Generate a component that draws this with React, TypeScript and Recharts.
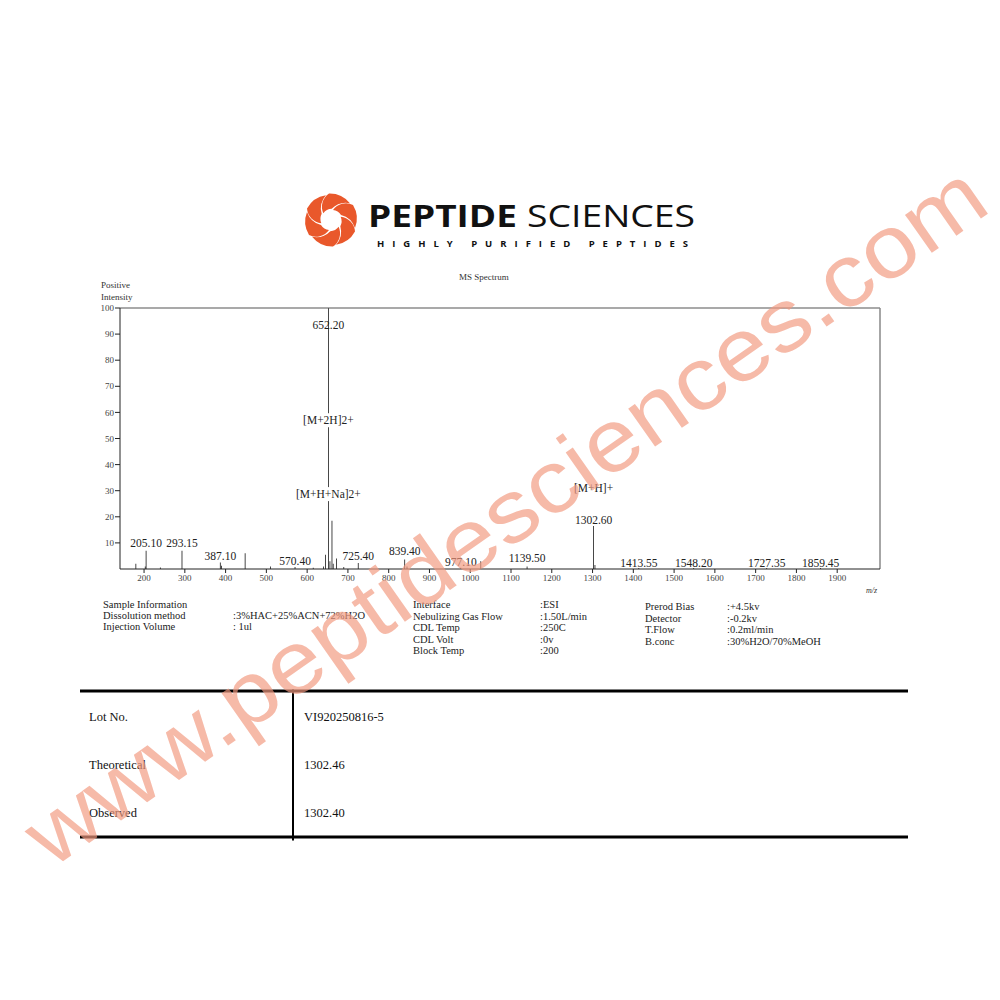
import { ComposedChart, Bar, Scatter, XAxis, YAxis, ReferenceLine } from "recharts";

// peaks (m/z, relative intensity %)
const peakMz = [
  180, 203, 205.1, 240, 293.15, 387.1, 390, 448, 510, 570.4, 615, 640, 645, 652.2, 656, 661, 664,
  672, 690, 725.4, 839.4, 845, 977.1, 1026, 1139.5, 1302.6, 1306, 1413.55, 1548.2, 1727.35, 1859.45,
];
const peakIntensity = [
  2, 1, 7, 0.6, 7, 2.5, 1.2, 6, 1, 0.8, 0.5, 1, 5.5, 100, 3, 18.5, 2, 4, 0.8, 2.3, 3.6, 1, 0.5, 3,
  1, 16.5, 1.5, 0.4, 0.4, 0.4, 0.4,
];

// annotations (m/z, height on the intensity scale, text)
const labelMz = [
  205.1, 293.15, 387.1, 570.4, 652.2, 652.2, 652.2, 725.4, 839.4, 977.1, 1139.5, 1302.6, 1302.6,
  1413.55, 1548.2, 1727.35, 1859.45,
];
const labelPos = [10, 10, 5, 3, 93.5, 57, 28.7, 5, 7, 2.8, 4.2, 31, 18.8, 2.4, 2.4, 2.4, 2.4];
const labelText = [
  "205.10", "293.15", "387.10", "570.40", "652.20", "[M+2H]2+", "[M+H+Na]2+", "725.40", "839.40",
  "977.10", "1139.50", "[M+H]+", "1302.60", "1413.55", "1548.20", "1727.35", "1859.45",
];

const xTicks = [200, 300, 400, 500, 600, 700, 800, 900, 1000, 1100, 1200, 1300, 1400, 1500, 1600, 1700, 1800, 1900];
const yTicks = [10, 20, 30, 40, 50, 60, 70, 80, 90, 100];

const sampleInfo = [
  ["Sample Information", ""],
  ["Dissolution method", ":3%HAC+25%ACN+72%H2O"],
  ["Injection Volume", ": 1ul"],
];
const sourceInfo = [
  ["Interface", ":ESI"],
  ["Nebulizing Gas Flow", ":1.50L/min"],
  ["CDL Temp", ":250C"],
  ["CDL Volt", ":0v"],
  ["Block Temp", ":200"],
];
const detectorInfo = [
  ["Prerod Bias", ":+4.5kv"],
  ["Detector", ":-0.2kv"],
  ["T.Flow", ":0.2ml/min"],
  ["B.conc", ":30%H2O/70%MeOH"],
];
const tableRows = [
  ["Lot No.", "VI920250816-5"],
  ["Theoretical", "1302.46"],
  ["Observed", "1302.40"],
];

const peaks = peakMz.map((mz, i) => ({ mz, intensity: peakIntensity[i] }));
const labels = labelMz.map((mz, i) => ({ mz, y: labelPos[i], text: labelText[i] }));

const xMinor: number[] = [];
for (let v = 160; v <= 2000; v += 20) xMinor.push(v);
const yMinor: number[] = [];
for (let v = 0; v <= 100; v += 2) yMinor.push(v);

const SERIF = "'Liberation Serif', 'DejaVu Serif', serif";
const SANS = "'Open Sans', 'Noto Sans', sans-serif";
const ORANGE = "#e9582b";

function PeakLabel(props: any) {
  const { cx, cy, payload } = props;
  if (cx == null || cy == null) return null;
  const boxed = payload.text.startsWith("[");
  const w = payload.text.length * 5.9;
  return (
    <g>
      {boxed && <rect x={cx - w / 2} y={cy - 7} width={w} height={14} fill="#fff" />}
      <text x={cx} y={cy + 4} textAnchor="middle" fontFamily={SERIF} fontSize={11.5} fill="#222">
        {payload.text}
      </text>
    </g>
  );
}

function Logo() {
  const cx = 331;
  const cy = 220;
  const blades = [0, 60, 120, 180, 240, 300];
  return (
    <g>
      {blades.map((a) => (
        <path
          key={a}
          transform={`translate(${cx} ${cy}) rotate(${a})`}
          d="M 2 -10 A 16 16 0 0 1 22 -15 A 26 26 0 0 1 24 8 A 20 20 0 0 0 10 -5 A 11 11 0 0 0 2 -10 Z"
          fill={ORANGE}
        />
      ))}
      <text x={368} y={227} fontFamily={SANS} fontSize={31} fontWeight={700} fill="#111"
        textLength={149} lengthAdjust="spacingAndGlyphs">
        PEPTIDE
      </text>
      <text x={527} y={227} fontFamily={SANS} fontSize={31} fontWeight={400} fill="#111"
        textLength={168} lengthAdjust="spacingAndGlyphs">
        SCIENCES
      </text>
      <text x={377} y={247} fontFamily={SANS} fontSize={9.5} fontWeight={700} fill="#111"
        textLength={311} lengthAdjust="spacing">
        HIGHLY PURIFIED PEPTIDES
      </text>
    </g>
  );
}

export default function App() {
  return (
    <div
      style={{
        position: "absolute",
        left: 0,
        top: 0,
        width: 1000,
        height: 1000,
        background: "#fff",
        fontFamily: SERIF,
        overflow: "hidden",
      }}
    >
      <svg width={1000} height={1000} style={{ position: "absolute", left: 0, top: 0 }}>
        <Logo />
        <text x={484} y={280} textAnchor="middle" fontFamily={SERIF} fontSize={9} fill="#333">
          MS Spectrum
        </text>
        <text x={101} y={288} fontFamily={SERIF} fontSize={9} fill="#333">Positive</text>
        <text x={101} y={300} fontFamily={SERIF} fontSize={9} fill="#333">Intensity</text>
        <text x={866} y={593} fontFamily={SERIF} fontSize={8} fontStyle="italic" fill="#333">m/z</text>

        {sampleInfo.map(([k, v], i) => (
          <g key={k}>
            <text x={103} y={608 + i * 11} fontFamily={SERIF} fontSize={10.5} fill="#222">{k}</text>
            <text x={233} y={608 + i * 11} fontFamily={SERIF} fontSize={10.5} fill="#222">{v}</text>
          </g>
        ))}
        {sourceInfo.map(([k, v], i) => (
          <g key={k}>
            <text x={413} y={608 + i * 11.5} fontFamily={SERIF} fontSize={10.5} fill="#222">{k}</text>
            <text x={540} y={608 + i * 11.5} fontFamily={SERIF} fontSize={10.5} fill="#222">{v}</text>
          </g>
        ))}
        {detectorInfo.map(([k, v], i) => (
          <g key={k}>
            <text x={645} y={610 + i * 11.5} fontFamily={SERIF} fontSize={10.5} fill="#222">{k}</text>
            <text x={727} y={610 + i * 11.5} fontFamily={SERIF} fontSize={10.5} fill="#222">{v}</text>
          </g>
        ))}

        <rect x={80} y={689.5} width={828} height={3} fill="#000" />
        <rect x={80} y={835.5} width={828} height={3} fill="#000" />
        <rect x={292} y={689.5} width={2} height={151} fill="#000" />
        {tableRows.map(([k, v], i) => (
          <g key={k}>
            <text x={89} y={721 + i * 48} fontFamily={SERIF} fontSize={12.5} fill="#111">{k}</text>
            <text x={304} y={721 + i * 48} fontFamily={SERIF} fontSize={12.5} fill="#111">{v}</text>
          </g>
        ))}
      </svg>

      <div style={{ position: "absolute", left: 80, top: 290 }}>
        <ComposedChart
          width={820}
          height={320}
          data={peaks}
          margin={{ top: 18, right: 20, bottom: 16, left: 0 }}
        >
          <XAxis
            xAxisId="minor"
            dataKey="mz"
            type="number"
            domain={[141, 2005]}
            ticks={xMinor}
            tickSize={2}
            tick={false}
            axisLine={false}
            height={0}
            stroke="#333"
          />
          <XAxis
            dataKey="mz"
            type="number"
            domain={[141, 2005]}
            ticks={xTicks}
            interval={0}
            tickSize={4}
            tickMargin={2}
            height={25}
            stroke="#222"
            tick={{ fontFamily: SERIF, fontSize: 9, fill: "#444" }}
          />
          <YAxis
            yAxisId="minor"
            type="number"
            domain={[0, 100]}
            ticks={yMinor}
            tickSize={2}
            tick={false}
            axisLine={false}
            width={0}
            stroke="#333"
          />
          <YAxis
            type="number"
            domain={[0, 100]}
            ticks={yTicks}
            interval={0}
            tickSize={5}
            tickMargin={1}
            width={40}
            stroke="#222"
            tick={{ fontFamily: SERIF, fontSize: 9, fill: "#444" }}
          />
          <ReferenceLine y={100} stroke="#555" strokeWidth={1.2} />
          <ReferenceLine x={2005} stroke="#888" strokeWidth={1.5} />
          <Bar dataKey="intensity" fill="#111" barSize={1.5} isAnimationActive={false} />
          <Scatter data={labels} dataKey="y" shape={PeakLabel} isAnimationActive={false} />
        </ComposedChart>
      </div>

      <svg
        width={1000}
        height={1000}
        style={{ position: "absolute", left: 0, top: 0, pointerEvents: "none" }}
      >
        <text
          x={505}
          y={545}
          transform="rotate(-35 505 515)"
          textAnchor="middle"
          fontFamily="'Liberation Sans', 'DejaVu Sans', sans-serif"
          fontSize={88}
          fill="#f39a80"
          opacity={0.68}
          textLength={1150}
          lengthAdjust="spacingAndGlyphs"
        >
          www.peptidesciences.com
        </text>
      </svg>
    </div>
  );
}
